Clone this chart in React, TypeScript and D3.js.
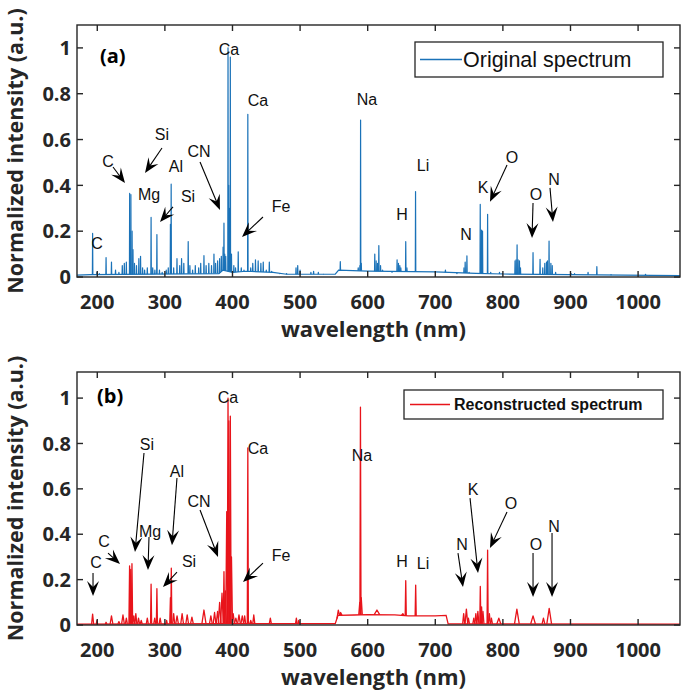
import React from 'react';
import * as d3 from 'd3';

// ---------- data ----------
const xTicks = [200, 300, 400, 500, 600, 700, 800, 900, 1000];
const yTicks = [0, 0.2, 0.4, 0.6, 0.8, 1];
const yTickLabels = ['0', '0.2', '0.4', '0.6', '0.8', '1'];

// [wavelength, level]
const originalBaseline: [number, number][] = [
  [170, 0.008], [190, 0.01], [380, 0.015], [386, 0.03], [400, 0.02], [420, 0.025],
  [460, 0.02], [480, 0.012], [552, 0.012], [557, 0.03], [600, 0.026], [700, 0.022],
  [760, 0.016], [800, 0.013], [900, 0.01], [1062, 0.006],
];

// [wavelength, intensity]
const originalPeaks: [number, number][] = [
  [193.1, 0.19], [199.5, 0.02], [203, 0.015], [213.0, 0.085], [221.0, 0.065], [227, 0.03],
  [232, 0.02], [237, 0.05], [240, 0.06], [243, 0.065], [247.9, 0.365], [248.5, 0.2],
  [249.7, 0.36], [251.5, 0.2], [252.8, 0.12], [255, 0.06], [258, 0.05], [261.5, 0.08],
  [264, 0.09], [267, 0.04], [270, 0.03], [274, 0.04], [279.6, 0.26], [282, 0.04],
  [285.2, 0.03], [288.2, 0.185], [292, 0.03], [296, 0.02], [302, 0.03], [305, 0.04],
  [308.2, 0.23], [309.3, 0.405], [313, 0.04], [317.9, 0.08], [322, 0.05], [324.7, 0.08],
  [328, 0.06], [334.5, 0.155], [337, 0.05], [341, 0.03], [345, 0.05], [350, 0.04],
  [353, 0.06], [357.8, 0.093], [361, 0.05], [365, 0.06], [369, 0.05], [372.6, 0.1],
  [375, 0.06], [378, 0.07], [381, 0.08], [383.5, 0.09], [386.1, 0.13], [387.4, 0.235],
  [388.5, 0.1], [390, 0.09], [393.4, 1.0], [394.5, 0.4], [395.5, 0.3], [396.8, 0.96],
  [398.5, 0.1], [402, 0.05], [404.5, 0.04], [408.5, 0.11], [413, 0.04], [417, 0.03],
  [422.7, 0.71], [427, 0.04], [430, 0.06], [434, 0.075], [438, 0.07], [442, 0.06],
  [445.5, 0.065], [450, 0.03], [454.5, 0.065], [458, 0.025], [470, 0.015], [480, 0.015],
  [494, 0.04], [496.5, 0.05], [500, 0.03], [516, 0.02], [520, 0.025], [527, 0.02],
  [535, 0.012], [559.5, 0.067], [586, 0.04], [588.6, 0.05], [589.5, 0.685], [590.5, 0.06],
  [610.5, 0.1], [612.5, 0.07], [614.5, 0.06], [616.5, 0.137], [619, 0.05], [622, 0.03],
  [636, 0.02], [643.5, 0.075], [645.5, 0.06], [647.5, 0.05], [649, 0.04], [656.3, 0.154],
  [658, 0.04], [670.8, 0.373], [700, 0.02], [715, 0.03], [732, 0.015], [742.5, 0.04],
  [744.2, 0.065], [746.8, 0.092], [750, 0.02], [766.5, 0.317], [768.5, 0.205], [769.9, 0.2],
  [777.4, 0.274], [782, 0.02], [795, 0.02], [799, 0.015], [818, 0.07], [819.5, 0.075],
  [821, 0.14], [822.5, 0.075], [824.5, 0.07], [826, 0.04], [844.6, 0.106], [855, 0.077],
  [859, 0.04], [862, 0.06], [864.5, 0.065], [866, 0.07], [868.3, 0.157], [871, 0.06],
  [873, 0.05], [878, 0.02], [901, 0.015], [906, 0.015], [926, 0.02], [939, 0.045],
  [960, 0.01], [1011, 0.012],
];

const reconstructedBaseline: [number, number][] = [
  [170, 0.004], [380, 0.006], [552, 0.006], [556, 0.042], [580, 0.044], [600, 0.046],
  [640, 0.045], [660, 0.04], [700, 0.04], [716, 0.042], [719, 0.005], [1062, 0.004],
];

// [wavelength, intensity, half width]
const reconstructedPeaks: [number, number, number][] = [
  [193.1, 0.048, 1.5], [199.5, 0.02, 1], [213, 0.012, 1], [221, 0.04, 2], [232, 0.015, 1.5],
  [238, 0.044, 2], [243, 0.03, 1.5], [247.8, 0.26, 1], [249.5, 0.245, 1], [251.3, 0.27, 1],
  [254, 0.04, 1.5], [257, 0.05, 1.5], [261, 0.03, 1.5], [265, 0.02, 1.5], [274, 0.03, 1.5],
  [279.6, 0.18, 0.8], [285, 0.03, 1.5], [288.2, 0.16, 0.8], [293, 0.03, 1.5], [302.6, 0.02, 1],
  [308.2, 0.12, 1], [309.5, 0.25, 0.8], [313, 0.05, 1.5], [318, 0.04, 2], [325.5, 0.05, 2],
  [333, 0.045, 2], [340, 0.035, 2], [357.8, 0.066, 3], [368, 0.04, 2], [373.5, 0.055, 2],
  [378, 0.06, 2], [381, 0.1, 2], [384.5, 0.14, 2], [387.4, 0.235, 1], [389.5, 0.15, 1.5],
  [391.5, 0.5, 1.5], [393.4, 1.0, 1.2], [394.6, 0.9, 1.2], [396.8, 0.92, 1.2], [398.5, 0.3, 1.5],
  [401, 0.05, 2], [405, 0.03, 2], [409.6, 0.045, 2], [414.5, 0.04, 2], [418, 0.04, 1.5],
  [422.7, 0.78, 0.8], [427, 0.02, 1.5], [431.5, 0.044, 1.5], [456, 0.03, 1.5], [494.5, 0.03, 1.2],
  [498, 0.02, 1], [556.5, 0.065, 2], [560, 0.055, 2], [588.3, 0.1, 1.5], [589.3, 0.96, 0.8],
  [590.5, 0.12, 1.5], [613.7, 0.066, 4], [652, 0.05, 2], [656.3, 0.195, 0.8], [671, 0.176, 0.8],
  [742, 0.05, 1.5], [746, 0.07, 2], [749, 0.03, 1.5], [757, 0.03, 1.5], [760, 0.05, 1.5],
  [763, 0.06, 1.5], [766.6, 0.17, 0.8], [768.5, 0.08, 1], [770.5, 0.06, 1.5], [777.4, 0.33, 0.8],
  [780, 0.05, 1.5], [783, 0.03, 1.5], [794, 0.03, 3], [820.7, 0.07, 3.5], [844.6, 0.04, 3.5],
  [860, 0.03, 2], [868.5, 0.073, 3.5],
];

// [text, wavelength, intensity]  (text centre / baseline)
const originalLabels: [string, number, number][] = [
  ['Ca', 394.8, 0.969], ['Ca', 437.8, 0.747], ['Si', 295.7, 0.598], ['C', 215.9, 0.48],
  ['Mg', 276.5, 0.336], ['Al', 316.4, 0.459], ['Si', 334.2, 0.328], ['CN', 350.5, 0.524],
  ['Fe', 471.8, 0.284], ['C', 199.6, 0.122], ['Na', 599, 0.751], ['Li', 681.8, 0.463],
  ['H', 650.8, 0.249], ['N', 745.4, 0.162], ['K', 770.6, 0.367], ['O', 813.5, 0.498],
  ['O', 849, 0.336], ['N', 875.6, 0.402],
];
// [x0, y0, x1, y1]
const originalArrows: [number, number, number, number][] = [
  [295.7, 0.563, 270.6, 0.454], [223.3, 0.48, 241, 0.41], [312, 0.306, 292.8, 0.24],
  [352, 0.502, 381.5, 0.293], [445.1, 0.262, 414.1, 0.175], [806.1, 0.489, 780.9, 0.328],
  [844.6, 0.323, 843.1, 0.17], [869.7, 0.389, 874.1, 0.24],
];

const reconstructedLabels: [string, number, number][] = [
  ['Ca', 393.4, 0.978], ['Ca', 437.8, 0.753], ['Si', 273.5, 0.771], ['Al', 317.9, 0.652],
  ['Mg', 278, 0.388], ['C', 210, 0.344], ['C', 198.1, 0.251], ['Si', 335.7, 0.256],
  ['CN', 350.5, 0.52], ['Fe', 471.8, 0.282], ['Na', 591.6, 0.722], ['H', 650.8, 0.256],
  ['Li', 681.8, 0.247], ['N', 739.5, 0.33], ['K', 755.8, 0.573], ['O', 812, 0.511],
  ['O', 849, 0.33], ['N', 875.6, 0.41],
];
const reconstructedArrows: [number, number, number, number][] = [
  [269.1, 0.758, 255.8, 0.322], [317.9, 0.648, 310.5, 0.352], [276.5, 0.388, 275, 0.242],
  [215.9, 0.317, 233.6, 0.269], [193.7, 0.229, 193.7, 0.128], [317.9, 0.233, 297.2, 0.167],
  [352, 0.507, 378.6, 0.3], [445.1, 0.273, 415.6, 0.189], [733.6, 0.317, 741, 0.167],
  [751.4, 0.559, 763.2, 0.229], [806.1, 0.498, 780.9, 0.339], [844.6, 0.317, 844.6, 0.123],
  [872.7, 0.405, 872.7, 0.123],
];

// ---------- drawing ----------
const W = 685;
const H = 696;
const AX = '#262626';
const BOLD_FONT = "'Open Sans', 'DejaVu Sans', sans-serif";
const PLAIN_FONT = "'Liberation Sans', Arial, sans-serif";

const x = d3.scaleLinear().domain([170, 1062]).range([77, 680]);

type PanelProps = {
  yDomainMax: number;
  top: number;
  bottom: number;
  color: string;
  lineWidth: number;
  baseline: [number, number][];
  peaks: [number, number, number][];
  labels: [string, number, number][];
  arrows: [number, number, number, number][];
  tag: string;
  tagPos: [number, number];
  legendText: string;
  legendBold: boolean;
  legend: { x0: number; x1: number; y0: number; y1: number; fs: number; lx0: number; lx1: number; tx: number };
};

function Arrow({ x0, y0, x1, y1 }: { x0: number; y0: number; x1: number; y1: number }) {
  const dx = x1 - x0;
  const dy = y1 - y0;
  const len = Math.hypot(dx, dy);
  const ux = dx / len;
  const uy = dy / len;
  const nx = -uy;
  const ny = ux;
  const L = 15;
  const Wd = 12;
  const bx = x1 - ux * L;
  const by = y1 - uy * L;
  const pts = [
    [x1, y1],
    [bx + nx * Wd / 2, by + ny * Wd / 2],
    [x1 - ux * L * 0.6, y1 - uy * L * 0.6],
    [bx - nx * Wd / 2, by - ny * Wd / 2],
  ];
  return (
    <g>
      <line x1={x0} y1={y0} x2={x1 - ux * L * 0.55} y2={y1 - uy * L * 0.55} stroke="#000" strokeWidth={1.1} />
      <polygon points={pts.map((p) => p.join(',')).join(' ')} fill="#000" />
    </g>
  );
}

function Panel(p: PanelProps) {
  const y = d3.scaleLinear().domain([0, p.yDomainMax]).range([p.bottom, p.top]);
  const base = d3.scaleLinear().domain(p.baseline.map((d) => d[0])).range(p.baseline.map((d) => d[1]));
  const line = d3.line<[number, number]>().x((d) => x(d[0])).y((d) => y(d[1]));
  const left = x.range()[0];
  const right = x.range()[1];
  const clipId = 'clip' + p.tag.replace(/\W/g, '');
  const tick = 6;
  return (
    <g>
      <defs>
        <clipPath id={clipId}>
          <rect x={left} y={p.top} width={right - left} height={p.bottom - p.top} />
        </clipPath>
      </defs>
      <g clipPath={`url(#${clipId})`}>
        <path d={line(p.baseline) || ''} fill="none" stroke={p.color} strokeWidth={p.lineWidth} />
        {p.peaks.map(([c, h, w], i) => {
          const pts: [number, number][] = [
            [c - w, base(c - w)],
            [c, h],
            [c + w, base(c + w)],
          ];
          return (
            <path key={i} d={line(pts) || ''} fill="none" stroke={p.color} strokeWidth={p.lineWidth} strokeLinejoin="round" />
          );
        })}
      </g>
      {/* box */}
      <rect x={left} y={p.top} width={right - left} height={p.bottom - p.top} fill="none" stroke={AX} strokeWidth={1.4} />
      {xTicks.map((t) => (
        <g key={'x' + t}>
          <line x1={x(t)} x2={x(t)} y1={p.bottom} y2={p.bottom - tick} stroke={AX} strokeWidth={1.4} />
          <line x1={x(t)} x2={x(t)} y1={p.top} y2={p.top + tick} stroke={AX} strokeWidth={1.4} />
          <text x={x(t)} y={p.bottom + 32} textAnchor="middle" fontFamily={BOLD_FONT} fontWeight="bold" fontSize={20} fill={AX}>
            {t}
          </text>
        </g>
      ))}
      {yTicks.map((t, i) => (
        <g key={'y' + t}>
          <line x1={left} x2={left + tick} y1={y(t)} y2={y(t)} stroke={AX} strokeWidth={1.4} />
          <line x1={right} x2={right - tick} y1={y(t)} y2={y(t)} stroke={AX} strokeWidth={1.4} />
          <text x={71} y={y(t)} dy="0.36em" textAnchor="end" fontFamily={BOLD_FONT} fontWeight="bold" fontSize={20} fill={AX}>
            {yTickLabels[i]}
          </text>
        </g>
      ))}
      <text x={(left + right) / 2 - 5} y={p.bottom + 60} textAnchor="middle" fontFamily={BOLD_FONT} fontWeight="bold" fontSize={22} fill={AX}>
        wavelength (nm)
      </text>
      <text
        transform={`translate(23,${(p.top + p.bottom) / 2}) rotate(-90)`}
        textAnchor="middle"
        fontFamily={BOLD_FONT}
        fontWeight="bold"
        fontSize={21.5}
        fill={AX}
      >
        Normalized intensity (a.u.)
      </text>
      {/* panel tag */}
      <text x={x(p.tagPos[0])} y={y(p.tagPos[1])} fontFamily={BOLD_FONT} fontWeight="bold" fontSize={20} fill="#000">
        {p.tag}
      </text>
      {/* annotations */}
      {p.labels.map(([s, lx, ly], i) => (
        <text key={'l' + i} x={x(lx)} y={y(ly)} textAnchor="middle" fontFamily={PLAIN_FONT} fontSize={16} fill="#111">
          {s}
        </text>
      ))}
      {p.arrows.map(([a, b, c, d], i) => (
        <Arrow key={'a' + i} x0={x(a)} y0={y(b)} x1={x(c)} y1={y(d)} />
      ))}
      {/* legend */}
      <rect
        x={p.legend.x0}
        y={p.legend.y0}
        width={p.legend.x1 - p.legend.x0}
        height={p.legend.y1 - p.legend.y0}
        fill="#fff"
        stroke={AX}
        strokeWidth={1.3}
      />
      <line
        x1={p.legend.lx0}
        x2={p.legend.lx1}
        y1={(p.legend.y0 + p.legend.y1) / 2}
        y2={(p.legend.y0 + p.legend.y1) / 2}
        stroke={p.color}
        strokeWidth={1.3}
      />
      <text
        x={p.legend.tx}
        y={(p.legend.y0 + p.legend.y1) / 2}
        dy="0.36em"
        fontFamily={PLAIN_FONT}
        fontWeight={p.legendBold ? 'bold' : 'normal'}
        fontSize={p.legend.fs}
        fill="#111"
      >
        {p.legendText}
      </text>
    </g>
  );
}

export default function App() {
  const origPeaks3: [number, number, number][] = originalPeaks.map(([c, h]) => [c, h, 0.35]);
  return (
    <svg width={W} height={H} style={{ position: 'absolute', left: 0, top: 0, background: '#fff' }}>
      <rect x={0} y={0} width={W} height={H} fill="#fff" />
      <Panel
        yDomainMax={1.1}
        top={25}
        bottom={277}
        color="#1a72b8"
        lineWidth={1.2}
        baseline={originalBaseline}
        peaks={origPeaks3}
        labels={originalLabels}
        arrows={originalArrows}
        tag="(a)"
        tagPos={[204, 0.934]}
        legendText="Original spectrum"
        legendBold={false}
        legend={{ x0: 415, x1: 663, y0: 42, y1: 77, fs: 21.5, lx0: 420, lx1: 462, tx: 463 }}
      />
      <Panel
        yDomainMax={1.115}
        top={372}
        bottom={625}
        color="#e8141b"
        lineWidth={1.3}
        baseline={reconstructedBaseline}
        peaks={reconstructedPeaks}
        labels={reconstructedLabels}
        arrows={reconstructedArrows}
        tag="(b)"
        tagPos={[199.6, 0.978]}
        legendText="Reconstructed spectrum"
        legendBold={true}
        legend={{ x0: 404, x1: 663, y0: 390, y1: 419, fs: 16, lx0: 410, lx1: 450, tx: 454 }}
      />
    </svg>
  );
}
